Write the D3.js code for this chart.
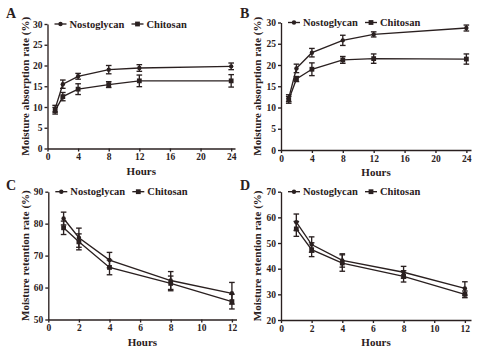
<!DOCTYPE html>
<html>
<head>
<meta charset="utf-8">
<script src="https://cdn.jsdelivr.net/npm/d3@7"></script>
<style>
  body { margin: 0; background: #fff; }
  svg text { font-family: "Times New Roman", "Liberation Serif", serif; font-weight: bold; fill: #2a2020; }
</style>
</head>
<body>
<div id="chart"></div>
<script>
// data
const hoursAB = [1, 2, 4, 8, 12, 24];
const hoursCD = [1, 2, 4, 8, 12];
const seriesNames = ['Nostoglycan', 'Chitosan'];

const absNostoA = [9.6, 15.5, 17.4, 19.0, 19.4, 19.8];
const absNostoAErr = [0.8, 1.0, 0.7, 1.0, 0.8, 0.8];
const absChitoA = [9.1, 12.5, 14.3, 15.4, 16.3, 16.3];
const absChitoAErr = [0.8, 1.0, 1.3, 0.7, 1.4, 1.5];

const absNostoB = [12.2, 19.2, 22.9, 25.8, 27.2, 28.7];
const absNostoBErr = [0.8, 1.0, 1.0, 1.2, 0.6, 0.7];
const absChitoB = [11.8, 16.7, 19.0, 21.2, 21.5, 21.4];
const absChitoBErr = [0.8, 0.6, 1.5, 0.8, 1.1, 1.2];

const retNostoC = [81.6, 75.6, 68.6, 62.2, 58.2];
const retNostoCErr = [2.0, 3.0, 2.4, 2.8, 3.4];
const retChitoC = [78.7, 74.3, 66.3, 61.3, 55.6];
const retChitoCErr = [2.1, 2.5, 2.3, 2.3, 2.3];

const retNostoD = [58.1, 49.4, 43.2, 38.6, 32.3];
const retNostoDErr = [3.2, 3.0, 2.6, 2.3, 2.6];
const retChitoD = [55.5, 47.4, 42.2, 37.0, 30.0];
const retChitoDErr = [2.9, 2.7, 3.2, 2.2, 1.3];

const xTicksAB = [0, 4, 8, 12, 16, 20, 24];
const xTicksCD = [0, 2, 4, 6, 8, 10, 12];
const yTicksAB = [0, 5, 10, 15, 20, 25, 30];
const yTicksC = [50, 60, 70, 80, 90];
const yTicksD = [20, 30, 40, 50, 60, 70];

const ink = '#2a2020';
const sw = 1.35;

const svg = d3.select('#chart').append('svg')
  .attr('width', 500).attr('height', 352);

const panels = [
  { letter: 'A', lx: 6, ly: 18, left: 47.5, right: 235, top: 24, bottom: 148.5,
    xDomain: [0, 24.5], yDomain: [0, 30], xTicks: xTicksAB, yTicks: yTicksAB,
    hours: hoursAB, ylabel: 'Moisture absorption rate (%)', ylabX: 25,
    s: [[absNostoA, absNostoAErr], [absChitoA, absChitoAErr]] },
  { letter: 'B', lx: 240, ly: 18, left: 281, right: 471, top: 22.5, bottom: 150,
    xDomain: [0, 24.6], yDomain: [0, 30], xTicks: xTicksAB, yTicks: yTicksAB,
    hours: hoursAB, ylabel: 'Moisture absorption rate (%)', ylabX: 257,
    s: [[absNostoB, absNostoBErr], [absChitoB, absChitoBErr]] },
  { letter: 'C', lx: 6, ly: 190, left: 48.3, right: 236.5, top: 191.7, bottom: 319.5,
    xDomain: [0, 12.3], yDomain: [50, 90], xTicks: xTicksCD, yTicks: yTicksC,
    hours: hoursCD, ylabel: 'Moisture retention rate (%)', ylabX: 25,
    s: [[retNostoC, retNostoCErr], [retChitoC, retChitoCErr]] },
  { letter: 'D', lx: 240, ly: 190, left: 281, right: 471, top: 191.7, bottom: 320,
    xDomain: [0, 12.4], yDomain: [20, 70], xTicks: xTicksCD, yTicks: yTicksD,
    hours: hoursCD, ylabel: 'Moisture retention rate (%)', ylabX: 257,
    s: [[retNostoD, retNostoDErr], [retChitoD, retChitoDErr]] },
];

function marker(g, kind, cx, cy) {
  if (kind === 0) {
    g.append('circle').attr('cx', cx).attr('cy', cy).attr('r', 2.2).attr('fill', ink);
  } else {
    g.append('rect').attr('x', cx - 2.4).attr('y', cy - 2.4)
      .attr('width', 4.8).attr('height', 4.8).attr('fill', ink);
  }
}

panels.forEach((p) => {
  const g = svg.append('g');
  const x = d3.scaleLinear().domain(p.xDomain).range([p.left, p.right]);
  const y = d3.scaleLinear().domain(p.yDomain).range([p.bottom, p.top]);

  // axes
  const ax = g.append('g').attr('transform', `translate(0,${p.bottom})`)
    .call(d3.axisBottom(x).tickValues(p.xTicks).tickSize(3).tickSizeOuter(0).tickPadding(2));
  const ay = g.append('g').attr('transform', `translate(${p.left},0)`)
    .call(d3.axisLeft(y).tickValues(p.yTicks).tickSize(3).tickSizeOuter(0).tickPadding(2));
  [ax, ay].forEach((a) => {
    a.selectAll('path, line').attr('stroke', ink).attr('stroke-width', sw);
    a.selectAll('text').attr('font-size', 9.5).style('font-family', '"Times New Roman", "Liberation Serif", serif')
      .style('font-weight', 'bold').attr('fill', ink);
  });

  // series
  p.s.forEach(([vals, errs], k) => {
    const pts = p.hours.map((h, i) => [h, vals[i], errs[i]]);
    g.append('path').datum(pts)
      .attr('fill', 'none').attr('stroke', ink).attr('stroke-width', sw)
      .attr('d', d3.line().x((d) => x(d[0])).y((d) => y(d[1])));
    pts.forEach((d) => {
      const cx = x(d[0]);
      g.append('line').attr('x1', cx).attr('x2', cx)
        .attr('y1', y(d[1] - d[2])).attr('y2', y(d[1] + d[2]))
        .attr('stroke', ink).attr('stroke-width', sw);
      [d[1] - d[2], d[1] + d[2]].forEach((v) => {
        g.append('line').attr('x1', cx - 2.8).attr('x2', cx + 2.8)
          .attr('y1', y(v)).attr('y2', y(v))
          .attr('stroke', ink).attr('stroke-width', sw);
      });
      marker(g, k, cx, y(d[1]));
    });
  });

  // legend
  const legX = [p.left + 7, p.left + 84];
  seriesNames.forEach((name, k) => {
    const lx = legX[k];
    g.append('line').attr('x1', lx).attr('x2', lx + 12)
      .attr('y1', p.top).attr('y2', p.top).attr('stroke', ink).attr('stroke-width', sw);
    marker(g, k, lx + 6, p.top);
    g.append('text').attr('x', lx + 15).attr('y', p.top + 3.7)
      .attr('font-size', 10.5).text(name);
  });

  // labels
  g.append('text').attr('x', p.lx).attr('y', p.ly).attr('font-size', 14).text(p.letter);
  g.append('text').attr('x', (p.left + p.right) / 2).attr('y', p.bottom + 26)
    .attr('text-anchor', 'middle').attr('font-size', 11).text('Hours');
  g.append('text')
    .attr('transform', `translate(${p.ylabX},${(p.top + p.bottom) / 2}) rotate(-90)`)
    .attr('text-anchor', 'middle').attr('dy', '0.35em').attr('font-size', 11).text(p.ylabel);
});
</script>
</body>
</html>
